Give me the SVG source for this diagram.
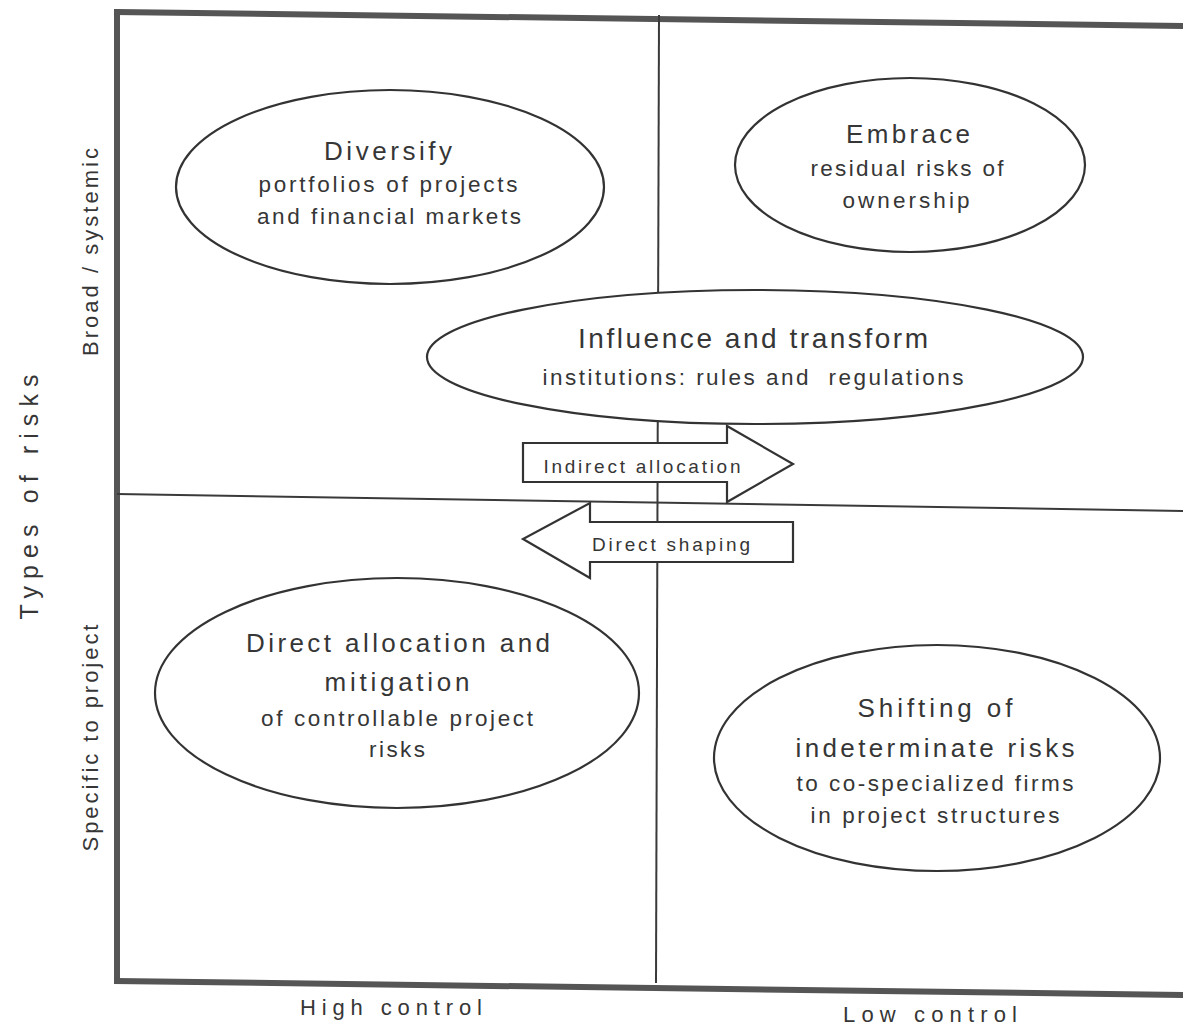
<svg xmlns="http://www.w3.org/2000/svg" width="1183" height="1028" viewBox="0 0 1183 1028">
  <style>
    .frame { stroke: #555; stroke-width: 6; fill: none; stroke-linecap: square; }
    .divider { stroke: #3a3a3a; stroke-width: 2; fill: none; }
    .node { fill: #fff; stroke: #333; stroke-width: 2.2; }
    .arrow { fill: #fff; stroke: #333; stroke-width: 2.2; stroke-linejoin: miter; }
    text { font-family: "Liberation Sans", Arial, sans-serif; fill: #363636; text-anchor: middle; }
    .title { font-size: 26px; }
    .title-wide { font-size: 28px; }
    .sub { font-size: 22.5px; }
    .arrowlabel { font-size: 19px; }
    .axis { font-size: 22px; }
    .axis-main { font-size: 25px; }
    .axis-side { font-size: 22px; }
  </style>

  <rect width="1183" height="1028" fill="#fff"/>

  <!-- quadrant frame and dividers -->
  <g id="grid">
    <line class="frame" x1="117" y1="12" x2="1190" y2="26"/>
    <line class="frame" x1="117" y1="12" x2="117" y2="981"/>
    <line class="frame" x1="117" y1="981" x2="1190" y2="995"/>
    <line class="divider" x1="659" y1="15" x2="656" y2="983"/>
    <line class="divider" x1="117" y1="494" x2="1190" y2="511"/>
  </g>

  <!-- axis labels -->
  <g id="axes">
    <text class="axis-main" transform="translate(38,497) rotate(-90)" textLength="245" lengthAdjust="spacing">Types of risks</text>
    <text class="axis-side" transform="translate(98,252) rotate(-90)" textLength="208" lengthAdjust="spacing">Broad / systemic</text>
    <text class="axis-side" transform="translate(98,738) rotate(-90)" textLength="227" lengthAdjust="spacing">Specific to project</text>
    <text class="axis" x="391" y="1015" textLength="182" lengthAdjust="spacing">High control</text>
    <text class="axis" x="930" y="1022" textLength="174" lengthAdjust="spacing">Low control</text>
  </g>

  <!-- connectors: the two block arrows between the quadrants -->
  <g id="connectors">
    <g id="indirect-allocation">
      <polygon class="arrow" points="523,443 727,443 727,426 793,464 727,502 727,482 523,482"/>
      <text class="arrowlabel" x="642" y="473" textLength="197" lengthAdjust="spacing">Indirect allocation</text>
    </g>
    <g id="direct-shaping">
      <polygon class="arrow" points="793,522 590,522 590,503 523,539 590,578 590,562 793,562"/>
      <text class="arrowlabel" x="671" y="551" textLength="158" lengthAdjust="spacing">Direct shaping</text>
    </g>
  </g>

  <g id="diversify">
    <ellipse class="node" cx="390" cy="187" rx="214" ry="97"/>
    <text class="title" x="388" y="160" textLength="128" lengthAdjust="spacing">Diversify</text>
    <text class="sub" x="388" y="192" textLength="259" lengthAdjust="spacing">portfolios of projects</text>
    <text class="sub" x="389" y="224" textLength="264" lengthAdjust="spacing">and financial markets</text>
  </g>

  <g id="embrace">
    <ellipse class="node" cx="910" cy="165" rx="175" ry="87"/>
    <text class="title" x="908" y="143" textLength="124" lengthAdjust="spacing">Embrace</text>
    <text class="sub" x="907" y="176" textLength="193" lengthAdjust="spacing">residual risks of</text>
    <text class="sub" x="906" y="208" textLength="127" lengthAdjust="spacing">ownership</text>
  </g>

  <g id="influence">
    <ellipse class="node" cx="755" cy="357" rx="328" ry="67"/>
    <text class="title-wide" x="753" y="348" textLength="350" lengthAdjust="spacing">Influence and transform</text>
    <text class="sub" x="753" y="385" textLength="421" lengthAdjust="spacing" style="white-space:pre">institutions: rules and  regulations</text>
  </g>

  <g id="direct-allocation">
    <ellipse class="node" cx="397" cy="693" rx="242" ry="115"/>
    <text class="title" x="398" y="652" textLength="304" lengthAdjust="spacing">Direct allocation and</text>
    <text class="title" x="397" y="691" textLength="145" lengthAdjust="spacing">mitigation</text>
    <text class="sub" x="397" y="726" textLength="272" lengthAdjust="spacing">of controllable project</text>
    <text class="sub" x="397" y="757" textLength="56" lengthAdjust="spacing">risks</text>
  </g>

  <g id="shifting">
    <ellipse class="node" cx="937" cy="758" rx="223" ry="113"/>
    <text class="title" x="935" y="717" textLength="155" lengthAdjust="spacing">Shifting of</text>
    <text class="title" x="935" y="757" textLength="279" lengthAdjust="spacing">indeterminate risks</text>
    <text class="sub" x="935" y="791" textLength="277" lengthAdjust="spacing">to co-specialized firms</text>
    <text class="sub" x="935" y="823" textLength="249" lengthAdjust="spacing">in project structures</text>
  </g>
</svg>
